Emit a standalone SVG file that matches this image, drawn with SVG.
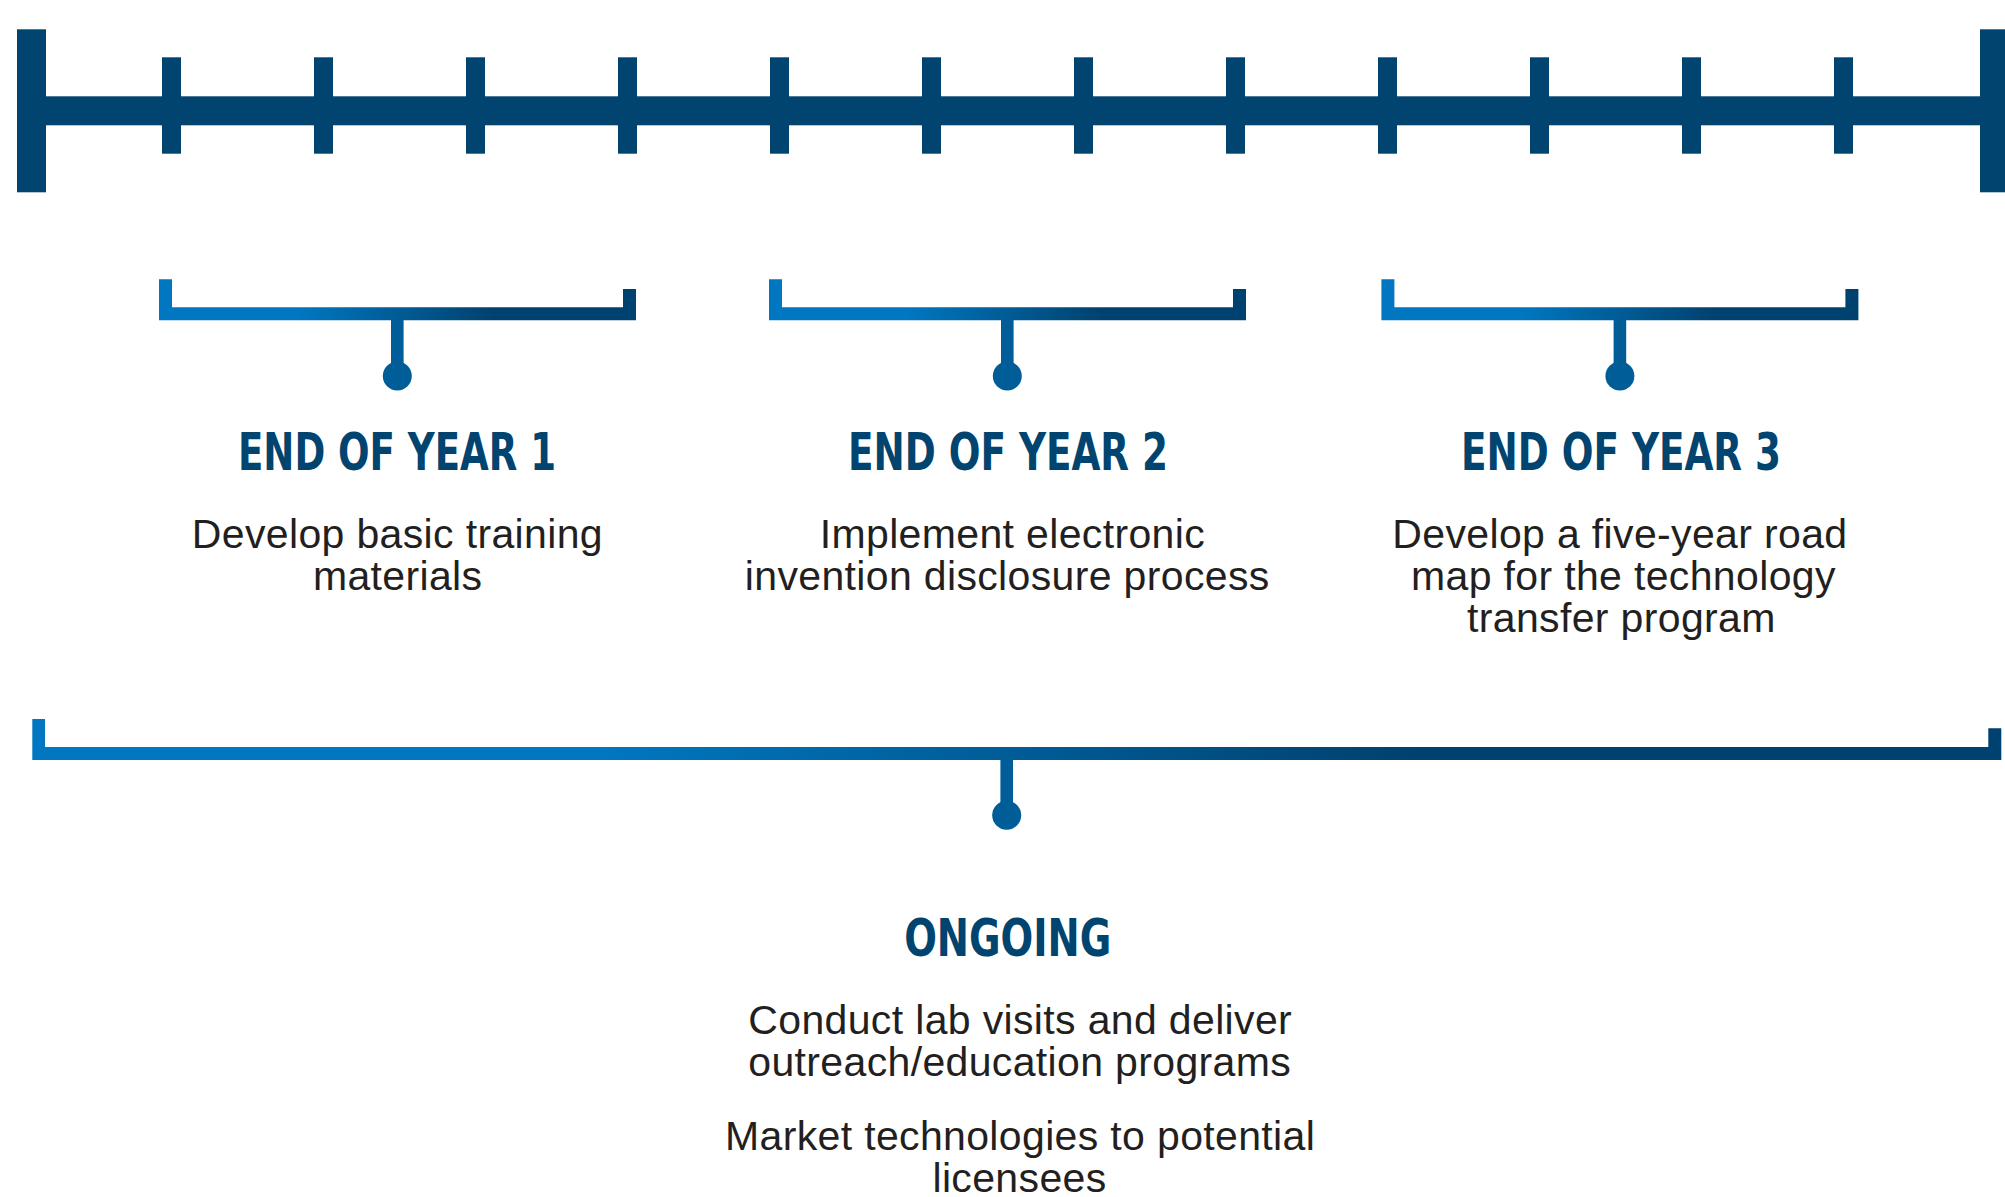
<svg xmlns="http://www.w3.org/2000/svg" width="2005" height="1197" viewBox="0 0 2005 1197">
  <defs>
    <linearGradient id="brk" x1="0" y1="0" x2="1" y2="0">
      <stop offset="0.29" stop-color="#0077c0"/>
      <stop offset="0.70" stop-color="#00426f"/>
    </linearGradient>
    <style>
      .bar { fill: #00446f; }
      .brk { fill: url(#brk); }
      .stem { fill: #005d98; }
      .title { font-family: "Liberation Sans Narrow", "Arial Narrow", "DejaVu Sans Condensed", sans-serif; font-weight: bold; font-size: 51px; fill: #00446f; text-anchor: middle; }
      .body { font-family: "Liberation Sans", Arial, sans-serif; font-size: 41px; letter-spacing: 0.35px; fill: #231f20; text-anchor: middle; }
    </style>
  </defs>
  <rect width="2005" height="1197" fill="#ffffff"/>

  <g id="timeline">
    <rect class="bar" x="17" y="29.3" width="29" height="163"/>
    <rect class="bar" x="17" y="96.3" width="1988" height="29"/>
    <rect class="bar" x="1980" y="29.3" width="30" height="163"/>
    <rect class="bar" x="162" y="57.3" width="19" height="96.4"/>
    <rect class="bar" x="314" y="57.3" width="19" height="96.4"/>
    <rect class="bar" x="466" y="57.3" width="19" height="96.4"/>
    <rect class="bar" x="618" y="57.3" width="19" height="96.4"/>
    <rect class="bar" x="770" y="57.3" width="19" height="96.4"/>
    <rect class="bar" x="922" y="57.3" width="19" height="96.4"/>
    <rect class="bar" x="1074" y="57.3" width="19" height="96.4"/>
    <rect class="bar" x="1226" y="57.3" width="19" height="96.4"/>
    <rect class="bar" x="1378" y="57.3" width="19" height="96.4"/>
    <rect class="bar" x="1530" y="57.3" width="19" height="96.4"/>
    <rect class="bar" x="1682" y="57.3" width="19" height="96.4"/>
    <rect class="bar" x="1834" y="57.3" width="19" height="96.4"/>
  </g>

  <g id="connectors">
    <path class="brk" d="M159,279.3 H172 V307.3 H623 V289 H636 V320.3 H159 Z"/>
    <rect class="stem" x="391" y="320" width="12.6" height="50"/>
    <circle class="stem" cx="397.3" cy="376" r="14.5"/>

    <path class="brk" d="M769,279.3 H782 V307.3 H1233 V289 H1246 V320.3 H769 Z"/>
    <rect class="stem" x="1001" y="320" width="12.6" height="50"/>
    <circle class="stem" cx="1007.3" cy="376" r="14.5"/>

    <path class="brk" d="M1381.4,279.3 H1394.4 V307.3 H1845.4 V289 H1858.4 V320.3 H1381.4 Z"/>
    <rect class="stem" x="1613.6" y="320" width="12.6" height="50"/>
    <circle class="stem" cx="1619.9" cy="376" r="14.5"/>

    <path class="brk" d="M32.3,719 H45 V747 H1988.3 V728.3 H2001.3 V760 H32.3 Z"/>
    <rect class="stem" x="1000.4" y="760" width="12.6" height="50"/>
    <circle class="stem" cx="1006.7" cy="815.3" r="14.5"/>
  </g>

  <g id="year1">
    <text class="title" x="397" y="470" textLength="318" lengthAdjust="spacingAndGlyphs">END OF YEAR 1</text>
    <text class="body" x="397.4" y="548">Develop basic training</text>
    <text class="body" x="397.7" y="590">materials</text>
  </g>

  <g id="year2">
    <text class="title" x="1008" y="470" textLength="320" lengthAdjust="spacingAndGlyphs">END OF YEAR 2</text>
    <text class="body" x="1012.4" y="548">Implement electronic</text>
    <text class="body" x="1007.2" y="590">invention disclosure process</text>
  </g>

  <g id="year3">
    <text class="title" x="1621" y="470" textLength="320" lengthAdjust="spacingAndGlyphs">END OF YEAR 3</text>
    <text class="body" x="1619.9" y="548">Develop a five-year road</text>
    <text class="body" x="1623.4" y="590">map for the technology</text>
    <text class="body" x="1621.4" y="632">transfer program</text>
  </g>

  <g id="ongoing">
    <text class="title" x="1007.7" y="956" textLength="207" lengthAdjust="spacingAndGlyphs">ONGOING</text>
    <text class="body" x="1020.2" y="1034">Conduct lab visits and deliver</text>
    <text class="body" x="1019.7" y="1076">outreach/education programs</text>
    <text class="body" x="1020.1" y="1150">Market technologies to potential</text>
    <text class="body" x="1019.5" y="1192">licensees</text>
  </g>
</svg>
